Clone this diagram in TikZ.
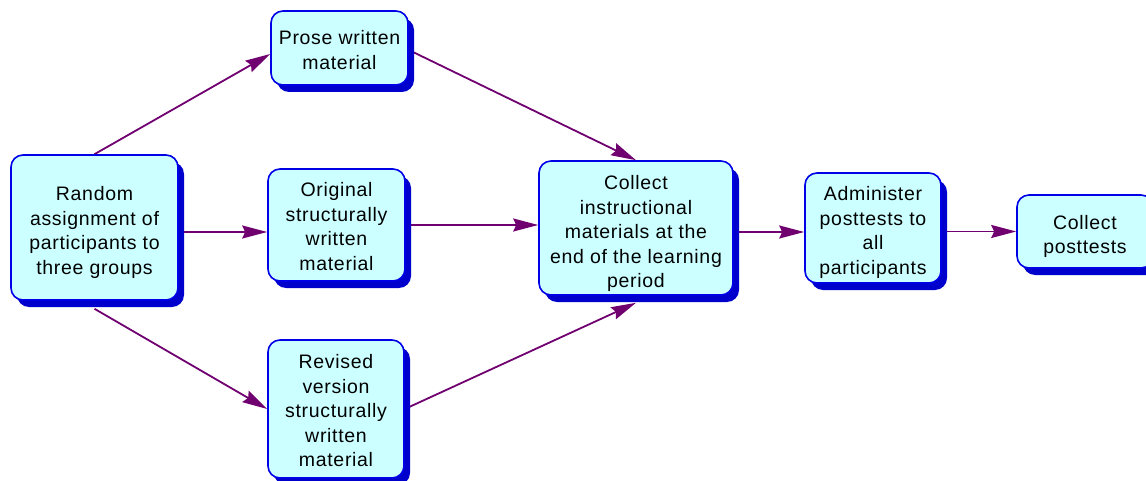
\documentclass[tikz,border=0pt]{standalone}
\usepackage{fontspec}
\setmainfont{Liberation Sans}[LetterSpace=3.5]
\usetikzlibrary{shadows,arrows.meta,backgrounds}
\definecolor{boxfill}{RGB}{204,255,255}
\definecolor{boxline}{RGB}{0,0,230}
\definecolor{boxshade}{RGB}{0,0,204}
\definecolor{arrowpurple}{RGB}{112,0,112}

\tikzset{
  stepbox/.style={draw=boxline,line width=1.6pt,fill=boxfill,rounded corners=12pt,
    align=center,inner sep=0pt,font=\fontsize{19.5}{24.5}\selectfont,
    drop shadow={shadow xshift=6pt,shadow yshift=-7pt,fill=boxshade,opacity=1}},
  link/.style={arrowpurple,line width=1.8pt,-{Stealth[length=25pt,width=13pt,inset=3pt]}}
}

\begin{document}
\begin{tikzpicture}[x=1pt,y=-1pt]
  \useasboundingbox (0,0) rectangle (1146,481);

  \node[stepbox,text height=97.5pt,minimum width=167pt,minimum height=145pt] (rand) at (94.5,227.5)
    {Random\\assignment of\\participants to\\three groups};
  \node[stepbox,text height=42.5pt,minimum width=137pt,minimum height=74pt] (prose) at (339.5,48)
    {Prose written\\material};
  \node[stepbox,text height=90.5pt,minimum width=137pt,minimum height=112pt] (orig) at (336.5,225)
    {Original\\structurally\\written\\material};
  \node[stepbox,text height=116pt,minimum width=136pt,minimum height=138pt] (revd) at (336,409)
    {Revised\\version\\structurally\\written\\material};
  \node[stepbox,text height=124pt,minimum width=194pt,minimum height=134pt] (coll) at (636,228)
    {Collect\\instructional\\materials at the\\end of the learning\\period};
  \node[stepbox,text height=96.5pt,minimum width=136pt,minimum height=110pt] (admin) at (873,228)
    {Administer\\posttests to\\all\\participants};
  \node[stepbox,text height=48.5pt,minimum width=136pt,minimum height=73pt] (post) at (1085,231.5)
    {Collect\\posttests};

  % connectors under the boxes
  \begin{scope}[on background layer]
    \draw[link] (rand.north) -- ([yshift=-6pt]prose.west);
    \draw[link] ([yshift=-4.5pt]rand.east) -- ([yshift=-7pt]orig.west);
    \draw[link] ([yshift=-8pt]rand.south) -- (revd.west);
    \draw[link] ([yshift=-2pt]prose.east) -- (coll.north);
    \draw[link] (orig.east) -- (orig.east -| coll.west);
    \draw[link] (revd.east) -- ([yshift=-7pt]coll.south);
    \draw[link] ([yshift=-4pt]coll.east) -- ([yshift=-4pt]admin.west);
    \draw[link] ([yshift=-3.5pt]admin.east) -- (post.west);
  \end{scope}
\end{tikzpicture}
\end{document}
